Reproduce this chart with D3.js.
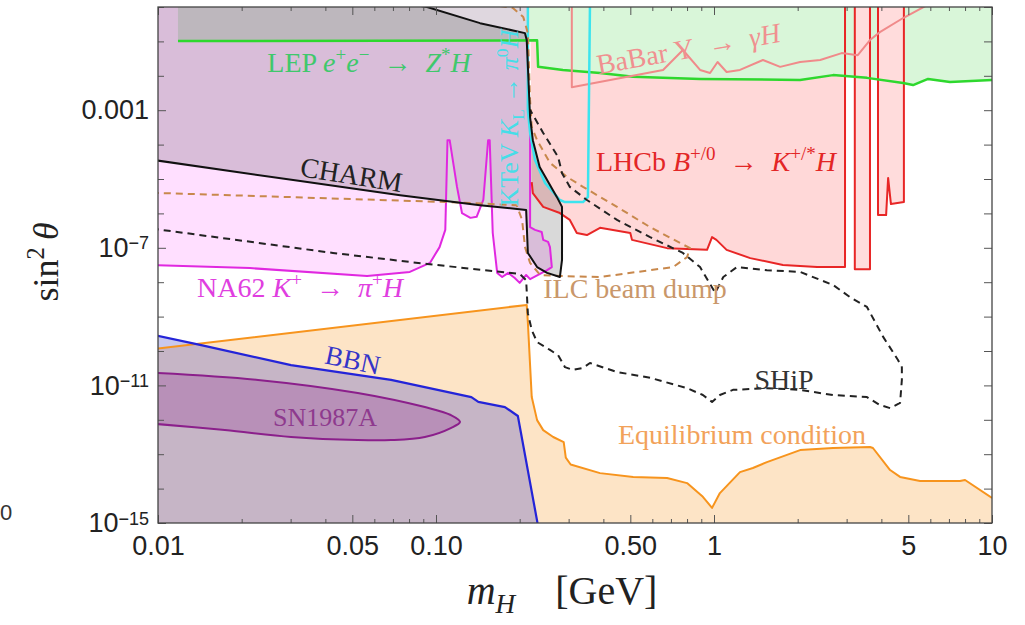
<!DOCTYPE html>
<html>
<head>
<meta charset="utf-8">
<script src="https://cdn.jsdelivr.net/npm/d3@7"></script>
<style>
  body { margin: 0; background: #fff; }
  svg { display: block; }
</style>
</head>
<body>
<div id="chart"></div>
<script>
// every point is [m_H in GeV, log10(sin^2 theta)]
const lep = [[0.0118,-0.99],[0.231,-0.97],[0.233,-1.74],[0.286,-1.83],[0.389,-1.92],[0.512,-2.03],[0.891,-2.09],
  [2.04,-2.12],[2.68,-1.98],[3.55,-2.06],[4.79,-2.21],[5.20,-2.27],[5.89,-2.09],[7.06,-2.18],[10,-2.12]];
const lhcbLine = [[0.221,-5.09],[0.223,-5.41],[0.243,-5.81],[0.279,-5.99],[0.303,-6.19],[0.321,-6.57],[0.349,-6.63],
  [0.389,-6.42],[0.5,-6.57],[0.507,-6.77],[0.678,-7.01],[0.944,-7.06],[0.984,-6.69],[1.02,-6.77],[1.11,-7.06],
  [1.35,-7.30],[1.77,-7.50],[2.35,-7.56],[2.96,-7.56]];
const lhcbCorner = [2.96, -2.01];
const lhcbStrips = [
  [[3.21,0.1],[3.21,-7.62],[3.64,-7.62],[3.64,0.1]],
  [[3.89,0.1],[3.89,-6.05],[4.16,-6.05],[4.23,-4.97],[4.33,-5.73],[4.82,-5.67],[4.82,0.1]]
];
const babar = [[0.308,0.1],[0.308,-2.33],[0.656,-1.83],[0.773,-1.25],[0.891,-1.83],[0.968,-1.92],[1.03,-1.60],
  [1.11,-1.89],[1.24,-1.83],[1.50,-1.54],[1.73,-1.74],[2.04,-1.60],[2.41,-1.54],[2.88,-1.34],[3.29,-1.40],
  [3.64,-0.96],[3.95,-0.73],[4.79,-0.32],[5.83,0.05]];
const ktev = [[0.214,0.1],[0.214,-2.99],[0.218,-3.66],[0.227,-4.45],[0.247,-5.12],[0.279,-5.61],[0.291,-5.67],
  [0.338,-5.67],[0.352,-5.52],[0.358,0.1]];
const na62 = [[0.0095,-7.50],[0.0214,-7.59],[0.0565,-7.82],[0.0805,-7.70],[0.0951,-7.44],[0.103,-6.98],[0.108,-6.48],
  [0.110,-3.87],[0.112,-3.87],[0.119,-5.23],[0.124,-5.99],[0.133,-6.13],[0.140,-6.10],[0.148,-5.61],[0.154,-3.87],
  [0.156,-3.87],[0.160,-6.57],[0.166,-7.73],[0.173,-7.85],[0.182,-7.73],[0.192,-7.88],[0.200,-8.02],[0.211,-7.79],
  [0.218,-7.91],[0.251,-7.65],[0.261,-7.56],[0.257,-6.98],[0.253,-6.83],[0.243,-6.77],[0.240,-6.54],[0.227,-6.48],
  [0.218,-6.40],[0.218,-3.66]];
const charm = [[0.0095,-4.44],[0.0325,-5.06],[0.0743,-5.47],[0.144,-5.76],[0.211,-5.90],[0.214,-7.15],[0.231,-7.56],
  [0.251,-7.73],[0.279,-7.85],[0.284,-7.35],[0.284,-5.81],[0.272,-5.52],[0.236,-4.65],[0.223,-3.87],[0.218,-3.20],
  [0.212,-0.96],[0.209,-0.76],[0.144,-0.47],[0.0929,0],[0.085,0.05]];
const ilc = [[0.0095,-5.40],[0.110,-5.67],[0.195,-5.76],[0.204,-6.19],[0.209,-6.98],[0.218,-7.44],[0.237,-7.79],
  [0.279,-7.82],[0.389,-7.85],[0.589,-7.65],[0.713,-7.56],[0.800,-7.27],[0.820,-7.01],[0.755,-6.86],[0.589,-6.40],
  [0.448,-5.81],[0.338,-5.23],[0.296,-4.94],[0.257,-4.53],[0.231,-3.87],[0.221,-3.49],[0.218,-2.70],[0.214,-0.76],
  [0.206,-0.29],[0.189,-0.03],[0.163,0.05]];
const ship = [[0.0095,-6.44],[0.0426,-7.15],[0.0929,-7.47],[0.2,-7.76],[0.211,-7.94],[0.214,-8.90],[0.221,-9.39],
  [0.231,-9.74],[0.257,-9.97],[0.275,-10.12],[0.291,-10.47],[0.311,-10.55],[0.338,-10.49],[0.358,-10.35],
  [0.448,-10.61],[0.589,-10.78],[0.800,-11.08],[0.912,-11.28],[0.984,-11.48],[1.05,-11.28],[1.17,-11.13],
  [1.55,-11.08],[2.04,-11.13],[2.68,-11.28],[3.55,-11.34],[3.95,-11.57],[4.30,-11.66],[4.67,-11.51],[4.74,-10.84],
  [4.74,-10.47],[4.59,-10.26],[4.06,-9.59],[3.55,-8.72],[3.08,-8.43],[2.68,-8.08],[2.04,-7.70],[1.55,-7.65],
  [1.21,-7.56],[1.08,-7.85],[1.01,-8.31],[0.891,-7.56],[0.773,-7.15],[0.589,-6.69],[0.448,-6.19],[0.349,-5.61],
  [0.303,-5.23],[0.284,-4.83],[0.275,-4.36],[0.243,-3.66],[0.218,-2.99]];
const equilibrium = [[0.0095,-9.95],[0.212,-8.66],[0.214,-9.16],[0.221,-11.34],[0.231,-12.01],[0.243,-12.30],
  [0.264,-12.50],[0.288,-12.65],[0.293,-13.1],[0.305,-13.3],[0.389,-13.55],[0.512,-13.66],[0.678,-13.69],
  [0.800,-13.84],[0.912,-14.24],[0.984,-14.56],[1.05,-14.13],[1.24,-13.52],[1.38,-13.40],[1.55,-13.23],[2.04,-12.88],
  [2.68,-12.82],[3.64,-12.79],[3.73,-12.82],[4.30,-13.46],[4.67,-13.66],[5.51,-13.78],[7.67,-13.78],[8.0,-13.75],
  [10,-14.27]];
const bbn = [[0.0095,-9.52],[0.0143,-9.83],[0.0301,-10.41],[0.0689,-10.84],[0.134,-11.34],[0.142,-11.48],
  [0.177,-11.63],[0.197,-11.89],[0.233,-15.1]];
const sn1987a = [[0.0095,-10.63],[0.0229,-10.84],[0.0523,-11.22],[0.0912,-11.63],[0.113,-11.86],[0.122,-12.06],
  [0.113,-12.24],[0.0912,-12.50],[0.0689,-12.59],[0.0523,-12.59],[0.0301,-12.50],[0.0174,-12.30],[0.0095,-12.11]];

const xMajor = [0.01, 0.05, 0.1, 0.5, 1, 5, 10];
const xMajorLabels = ['0.01', '0.05', '0.10', '0.50', '1', '5', '10'];
const yMajorExp = [-3, -7, -11, -15];

const W = 1025, H = 625;
const plot = {left: 158, right: 992, top: 7, bottom: 523};
const SERIF = '"Liberation Serif", "Times New Roman", serif';
const SANS = '"Liberation Sans", Arial, sans-serif';
const ARROW = '\u2002\u2192\u2002';

const svg = d3.select('#chart').append('svg')
  .attr('width', W).attr('height', H);

const x = d3.scaleLog().domain([0.01, 10]).range([plot.left, plot.right]);
const y = d3.scaleLog().domain([1e-15, 1]).range([plot.bottom, plot.top]);

const line = d3.line().x(d => x(d[0])).y(d => y(Math.pow(10, d[1])));
const closed = pts => line(pts) + 'Z';

svg.append('clipPath').attr('id', 'clip')
  .append('rect')
    .attr('x', plot.left).attr('y', plot.top)
    .attr('width', plot.right - plot.left).attr('height', plot.bottom - plot.top);

const g = svg.append('g').attr('clip-path', 'url(#clip)');

// filled regions (bottom to top)
const TOP = 0.2, BOT = -15.2;
g.append('path').attr('d', closed(lep.concat([[10, TOP], [0.0118, TOP]])))
  .attr('fill', '#2ecc2e').attr('fill-opacity', 0.18);

const lepUnder = lep.filter(d => d[0] > 0.232 && d[0] < lhcbCorner[0]).reverse();
g.append('path')
  .attr('d', closed(lhcbLine.concat([lhcbCorner], lepUnder, [[0.231, -0.97], [0.219, -0.97]])))
  .attr('fill', '#ff3a3a').attr('fill-opacity', 0.2);
// the narrow strips cover the LEP shading
lhcbStrips.forEach(s => {
  g.append('path').attr('d', closed(s)).attr('fill', '#ffdcdc');
});

g.append('path').attr('d', closed(equilibrium.concat([[10, BOT], [0.0095, BOT]])))
  .attr('fill', '#f7941d').attr('fill-opacity', 0.25);

g.append('path').attr('d', closed(na62.concat([[0.216, TOP], [0.0095, TOP]])))
  .attr('fill', '#ff40ff').attr('fill-opacity', 0.17);

g.append('path').attr('d', closed(bbn.concat([[0.0095, BOT]])))
  .attr('fill', '#4848c6').attr('fill-opacity', 0.3);

const snPath = d3.line().x(d => x(d[0])).y(d => y(Math.pow(10, d[1]))).curve(d3.curveCatmullRom.alpha(0.5));
g.append('path').attr('d', snPath(sn1987a) + 'Z')
  .attr('fill', '#800080').attr('fill-opacity', 0.2)
  .attr('stroke', '#8b1f8b').attr('stroke-width', 2);

g.append('path').attr('d', closed(charm.concat([[0.0095, TOP]])))
  .attr('fill', '#000').attr('fill-opacity', 0.15);

// boundary lines
const stroke = (pts, color, w, dash) => {
  const p = g.append('path').attr('d', line(pts))
    .attr('fill', 'none').attr('stroke', color).attr('stroke-width', w)
    .attr('stroke-linejoin', 'round');
  if (dash) p.attr('stroke-dasharray', dash);
  return p;
};

stroke(equilibrium, '#f7941d', 2);
stroke(bbn, '#2424d8', 2.2);
stroke(na62, '#e028e0', 2);
stroke(lhcbLine.concat([[2.96, TOP]]), '#e82626', 2);
lhcbStrips.forEach(s => stroke(s, '#e82626', 2));
stroke(lep, '#2ed82e', 2.5);
stroke(babar, '#f08a8a', 2);
stroke(ktev, '#3ce4ee', 2.5);
stroke(ilc, '#c8884c', 2, '7,5');
stroke(ship, '#222', 2, '7,5');
stroke(charm, '#111', 2);

// frame and ticks
const tickColor = '#555';
const xMinor = [];
for (let e = -2; e <= 0; e++) {
  for (let k = 1; k <= 9; k++) {
    const v = +(k * Math.pow(10, e)).toPrecision(3);
    if (!xMajor.includes(v)) xMinor.push(v);
  }
}
const yAll = d3.range(0, -16, -1);
const yMinor = yAll.filter(e => !yMajorExp.includes(e)).map(e => Math.pow(10, e));
const yMajor = yMajorExp.map(e => Math.pow(10, e));

function styleAxis(sel) {
  sel.select('.domain').remove();
  sel.selectAll('line').attr('stroke', tickColor).attr('stroke-width', 1);
}

const bottomAx = svg.append('g').attr('transform', `translate(0,${plot.bottom})`)
  .call(d3.axisBottom(x).tickValues(xMajor).tickSize(-8).tickPadding(13)
    .tickFormat((d, i) => xMajorLabels[i]));
bottomAx.call(styleAxis);
bottomAx.selectAll('text').attr('font-family', SANS).attr('font-size', 27).attr('fill', '#222');
svg.append('g').attr('transform', `translate(0,${plot.bottom})`)
  .call(d3.axisBottom(x).tickValues(xMinor).tickSize(-4).tickFormat(''))
  .call(styleAxis);
svg.append('g').attr('transform', `translate(0,${plot.top})`)
  .call(d3.axisTop(x).tickValues(xMajor).tickSize(-8).tickFormat(''))
  .call(styleAxis);
svg.append('g').attr('transform', `translate(0,${plot.top})`)
  .call(d3.axisTop(x).tickValues(xMinor).tickSize(-4).tickFormat(''))
  .call(styleAxis);

const leftAx = svg.append('g').attr('transform', `translate(${plot.left},0)`)
  .call(d3.axisLeft(y).tickValues(yMajor).tickSize(-8).tickPadding(9).tickFormat(''));
leftAx.call(styleAxis);
leftAx.selectAll('text').each(function(d) {
  const t = d3.select(this)
    .attr('font-family', SANS).attr('font-size', 27).attr('fill', '#222');
  const e = Math.round(Math.log10(d));
  if (e === -3) {
    t.text('0.001');
  } else {
    t.text('10');
    t.append('tspan').attr('dy', '-0.42em').attr('font-size', 18).text('\u2212' + (-e));
  }
});
svg.append('g').attr('transform', `translate(${plot.left},0)`)
  .call(d3.axisLeft(y).tickValues(yMinor).tickSize(-6).tickFormat(''))
  .call(styleAxis);
svg.append('g').attr('transform', `translate(${plot.right},0)`)
  .call(d3.axisRight(y).tickValues(yMajor.concat(yMinor)).tickSize(-8).tickFormat(''))
  .call(styleAxis);

svg.append('rect')
  .attr('x', plot.left).attr('y', plot.top)
  .attr('width', plot.right - plot.left).attr('height', plot.bottom - plot.top)
  .attr('fill', 'none').attr('stroke', '#444').attr('stroke-width', 1.3);

// text with italic / super / subscript pieces
function rich(px, py, parts, o) {
  const size = o.size || 28;
  const t = svg.append('text')
    .attr('x', px).attr('y', py)
    .attr('fill', o.color).attr('font-size', size)
    .attr('font-family', o.family || SERIF)
    .attr('text-anchor', o.anchor || 'middle');
  if (o.rotate) t.attr('transform', `rotate(${o.rotate},${px},${py})`);
  let shift = 0;
  parts.forEach(([s, st]) => {
    const sp = t.append('tspan').text(s);
    let target = 0;
    if (st.startsWith('sup')) { target = -0.4 * size; sp.attr('font-size', 0.68 * size); }
    if (st.startsWith('sub')) { target = 0.22 * size; sp.attr('font-size', 0.68 * size); }
    if (st.endsWith('i')) sp.attr('font-style', 'italic');
    if (target !== shift) { sp.attr('dy', target - shift); shift = target; }
  });
  return t;
}

rich(369, 72, [['LEP ', 'n'], ['e', 'i'], ['+', 'sup'], ['e', 'i'], ['\u2212', 'sup'], [ARROW, 'n'],
  ['Z', 'i'], ['*', 'sup'], ['H', 'i']], {color: '#3fc86c'});
rich(350, 184, [['CHARM', 'n']], {color: '#222', rotate: 9});
rich(300, 297, [['NA62 ', 'n'], ['K', 'i'], ['+', 'sup'], [ARROW, 'n'], ['\u03c0', 'i'], ['+', 'sup'],
  ['H', 'i']], {color: '#e03ee0'});
rich(351, 369, [['BBN', 'n']], {color: '#3535c8', rotate: 12, size: 27});
rich(325, 426, [['SN1987A', 'n']], {color: '#8e3a8e', size: 26});
rich(690, 58, [['BaBar ', 'n'], ['\u03a5', 'n'], [ARROW, 'n'], ['\u03b3', 'i'], ['H', 'i']],
  {color: '#f09090', rotate: -10});
rich(716, 171, [['LHCb ', 'n'], ['B', 'i'], ['+/0', 'sup'], [ARROW, 'n'], ['K', 'i'], ['+/*', 'sup'],
  ['H', 'i']], {color: '#e32626'});
rich(518, 118, [['KTeV ', 'n'], ['K', 'i'], ['L', 'sub'], [' \u2192 ', 'n'], ['\u03c0', 'i'], ['0', 'sup'],
  ['H', 'i']], {color: '#46dde8', rotate: -90, size: 26});
rich(635, 298, [['ILC beam dump', 'n']], {color: '#c9976a'});
rich(784, 389, [['SHiP', 'n']], {color: '#333'});
rich(742, 444, [['Equilibrium condition', 'n']], {color: '#f2a25a'});

// axis titles
rich(562, 604, [['m', 'i'], ['H', 'subi'], ['\u2003[GeV]', 'n']], {color: '#222', size: 40});
rich(58, 262, [['sin', 'n'], ['2', 'sup'], ['\u2009', 'n'], ['\u03b8', 'i']], {color: '#222', size: 36, rotate: -90});

// tick label at the left edge of the picture
svg.append('text').attr('x', 0).attr('y', 520)
  .attr('font-family', SANS).attr('font-size', 22).attr('fill', '#333').text('0');
</script>
</body>
</html>
